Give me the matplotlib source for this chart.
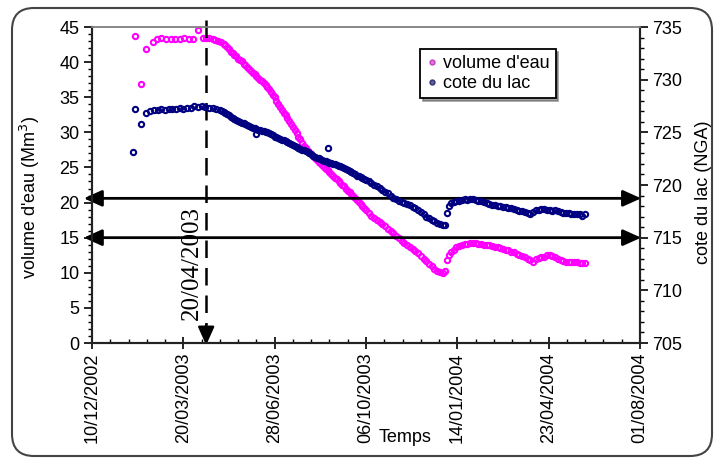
import numpy as np
import pandas as pd
import matplotlib
matplotlib.use("Agg")
import matplotlib.pyplot as plt
import matplotlib.dates as mdates
from matplotlib.lines import Line2D
from matplotlib.patches import FancyBboxPatch
from matplotlib.transforms import IdentityTransform

plt.rcParams['font.family'] = ['Liberation Sans', 'DejaVu Sans']

# ---------------- data ----------------
origin = "2002-12-10"
tick_labels = ["10/12/2002", "20/03/2003", "28/06/2003", "06/10/2003",
               "14/01/2004", "23/04/2004", "01/08/2004"]

# volume d'eau (Mm3): day offsets from origin, values
vol_days = [47, 54, 59, 67, 71, 76, 81, 86, 91, 96, 101, 106, 111, 116, 121, 125, 128, 132, 135, 138, 141,
            144, 146, 148, 150, 152, 154, 156, 158, 160, 162, 164, 166, 168, 170, 172, 174, 176, 178, 180,
            182, 184, 186, 188, 190, 192, 194, 196, 198, 200, 202, 204, 206, 208, 210, 212, 214, 216, 218,
            220, 222, 224, 226, 228, 230, 232, 234, 236, 238, 240, 242, 244, 246, 248, 250, 252, 254, 256,
            258, 260, 262, 264, 266, 268, 270, 272, 274, 276, 278, 280, 282, 284, 286, 288, 290, 292, 294,
            296, 298, 300, 303, 306, 309, 312, 315, 318, 321, 324, 327, 330, 333, 336, 339, 342, 345, 348,
            351, 354, 357, 360, 363, 366, 369, 372, 375, 378, 381, 384, 387,
            389, 391, 393, 396, 399, 402, 405, 408, 411, 414, 417, 420, 423, 426, 429, 432, 435, 438, 441,
            444, 447, 450, 453, 456, 459, 462, 465, 468, 471, 474, 477, 480, 483, 486, 489, 492, 495, 498,
            501, 504, 507, 510, 513, 516, 519, 522, 525, 528, 531, 534, 537, 540]
vol = [43.7, 36.9, 41.9, 42.9, 43.3, 43.4, 43.3, 43.3, 43.3, 43.3, 43.4, 43.3, 43.3, 44.6, 43.5, 43.4, 43.5,
       43.3, 43.2, 43.0, 42.8,
       42.6, 42.4, 42.1, 41.8, 41.5, 41.3, 41.0, 40.8, 40.5, 40.3, 40.1, 39.8, 39.6, 39.3, 39.0, 38.8, 38.5,
       38.3, 38.0, 37.8, 37.5, 37.3, 37.0, 36.8, 36.5, 36.1, 35.7, 35.3, 35.0, 34.5, 34.1, 33.6, 33.2, 32.8,
       32.4, 32.0, 31.6, 31.2, 30.8, 30.4, 29.9, 29.4, 29.0, 28.5, 28.1, 27.7, 27.4, 27.2, 26.9, 26.6, 26.3,
       26.1, 25.8, 25.6, 25.3, 25.1, 24.8, 24.6, 24.3, 24.1, 23.8, 23.5, 23.3, 23.0, 22.8, 22.5, 22.3, 22.0,
       21.7, 21.5, 21.2, 20.9, 20.7, 20.4, 20.1, 19.8, 19.5, 19.2, 18.9, 18.5, 18.1, 17.8, 17.5, 17.2, 16.9,
       16.6, 16.2, 15.9, 15.6, 15.2, 14.9, 14.5, 14.2, 13.9, 13.6, 13.4, 13.1, 12.8, 12.4, 12.0, 11.7, 11.3,
       11.0, 10.6, 10.3, 10.1, 10.0, 10.2,
       11.8, 12.6, 13.0, 13.3, 13.6, 13.8, 14.0, 14.1, 14.1, 14.2, 14.2, 14.2, 14.1, 14.1, 14.0, 14.0, 13.9,
       13.8, 13.7, 13.6, 13.5, 13.4, 13.3, 13.2, 13.0, 12.9, 12.7, 12.6, 12.4, 12.2, 12.0, 11.8, 11.5, 11.9,
       12.1, 12.2, 12.3, 12.5, 12.5, 12.4, 12.2, 12.0, 11.8, 11.7, 11.6, 11.5, 11.6, 11.5, 11.5, 11.4, 11.4,
       11.4]

# cote du lac (NGA)
lac_days = [45, 47, 54, 59, 64, 68, 72, 76, 80, 84, 88, 92, 96, 100, 104, 108, 112, 116, 120, 124, 128, 132,
            136, 140,
            142, 144, 146, 148, 150, 152, 154, 156, 158, 160, 162, 164, 166, 168, 170, 172, 174, 176, 178, 180,
            180, 182, 184, 186, 188, 190, 192, 194, 196, 198, 200, 202, 204, 206, 208, 210, 212, 214, 216, 218,
            220, 222, 224, 226, 228, 230, 232, 234, 236, 238, 240, 242, 244, 246, 248, 250, 252, 254, 256, 258,
            258, 260, 262, 264, 266, 268, 270, 272, 274, 276, 278, 280, 282, 284, 286, 288, 290, 292, 294, 296,
            298, 300, 303, 306, 309, 312, 315, 318, 321, 324, 327, 330, 333, 336, 339, 342, 345, 348, 351, 354,
            357, 360, 363, 366, 369, 372, 375, 378, 381, 384, 387,
            389, 391, 393, 396, 399, 402, 405, 408, 411, 414, 417, 420, 423, 426, 429, 432, 435, 438, 441, 444,
            447, 450, 453, 456, 459, 462, 465, 468, 471, 474, 477, 480, 483, 486, 489, 492, 495, 498, 501, 504,
            507, 510, 513, 516, 519, 522, 525, 528, 531, 534, 537, 540]
lac = [723.1, 727.2, 725.8, 726.8, 727.0, 727.1, 727.1, 727.2, 727.1, 727.2, 727.2, 727.2, 727.3, 727.2, 727.3,
       727.3, 727.5, 727.4, 727.5, 727.4, 727.3, 727.3, 727.2, 727.1,
       727.0, 726.9, 726.8, 726.7, 726.6, 726.5, 726.4, 726.3, 726.2, 726.1, 726.0, 725.9, 725.9, 725.8, 725.7,
       725.6, 725.5, 725.4, 725.4, 725.3, 724.8, 725.2, 725.2, 725.1, 725.1, 725.0, 725.0, 724.9, 724.8, 724.7,
       724.6, 724.6, 724.5, 724.4, 724.3, 724.3, 724.2, 724.1, 724.0, 723.9, 723.8, 723.7, 723.6, 723.5, 723.4,
       723.3, 723.3, 723.2, 723.1, 723.0, 722.9, 722.8, 722.7, 722.6, 722.6, 722.5, 722.4, 722.3, 722.3, 722.2,
       723.5, 722.1, 722.1, 722.0, 722.0, 721.9, 721.8, 721.8, 721.7, 721.6, 721.5, 721.4, 721.3, 721.2, 721.1,
       721.0, 720.9, 720.9, 720.8, 720.7, 720.6, 720.5, 720.4, 720.2, 720.0, 719.9, 719.7, 719.5, 719.3, 719.2,
       719.0, 718.8, 718.7, 718.5, 718.4, 718.3, 718.2, 718.1, 717.9, 717.8, 717.6, 717.4, 717.2, 717.0, 716.9,
       716.7, 716.6, 716.4, 716.3, 716.2, 716.2,
       717.3, 718.0, 718.3, 718.4, 718.5, 718.5, 718.6, 718.7, 718.6, 718.7, 718.7, 718.6, 718.5, 718.5, 718.4,
       718.3, 718.2, 718.1, 718.1, 718.0, 718.0, 717.9, 717.9, 717.8, 717.8, 717.7, 717.6, 717.5, 717.5, 717.4,
       717.3, 717.2, 717.4, 717.6, 717.6, 717.7, 717.7, 717.6, 717.6, 717.5, 717.6, 717.5, 717.4, 717.3, 717.3,
       717.3, 717.2, 717.2, 717.2, 717.2, 717.1, 717.2]

event_day = 125            # dashed marker position
event_label = "20/04/2003"
levels = [20.6, 15.0]      # horizontal double arrows (volume axis)

# ---------------- figure ----------------
W, H = 718, 462
fig = plt.figure(figsize=(W / 100, H / 100), dpi=100)
ax = fig.add_axes([92 / W, 1 - 343 / H, 548 / W, 316 / H])
ax2 = ax.twinx()

t0 = pd.Timestamp(origin)
vx = t0 + pd.to_timedelta(vol_days, unit="D")
lx = t0 + pd.to_timedelta(lac_days, unit="D")
ticks = pd.to_datetime(tick_labels, dayfirst=True)

MAG = "#ff00ff"
NAVY = "#000080"
ax.plot(vx, vol, linestyle="none", marker="o", ms=3.8, mfc="none", mec=MAG, mew=1.5, zorder=3)
ax2.plot(lx, lac, linestyle="none", marker="o", ms=3.8, mfc="none", mec=NAVY, mew=1.5, zorder=3)

ax.set_xlim(ticks[0], ticks[-1])
ax.set_ylim(0, 45)
ax2.set_ylim(705, 735)
ax.set_xticks(ticks)
ax.set_xticklabels(tick_labels, rotation=90, fontsize=13)
minor = pd.date_range(ticks[0], ticks[-1], freq="20D")
ax.xaxis.set_minor_locator(matplotlib.ticker.FixedLocator(mdates.date2num(minor)))
ax.set_yticks(np.arange(0, 46, 5))
ax.set_yticks(np.arange(0, 46, 1), minor=True)
ax2.set_yticks(np.arange(705, 736, 5))
ax2.set_yticks(np.arange(705, 736, 1), minor=True)
ax.tick_params(axis="y", which="major", direction="out", length=6, width=1.2, labelsize=13, pad=3)
ax.tick_params(axis="y", which="minor", direction="out", length=3, width=1)
ax.tick_params(axis="x", which="major", direction="inout", length=8, width=1.2, pad=3)
ax.tick_params(axis="x", which="minor", direction="in", length=3, width=1)
ax2.tick_params(axis="y", which="major", direction="out", length=6, width=1.2, labelsize=13, pad=3)
ax2.tick_params(axis="y", which="minor", direction="out", length=3, width=1)

for a in (ax, ax2):
    for s in a.spines.values():
        s.set_color("#222222")
        s.set_linewidth(1.5)
ax.spines["top"].set_color("#888888")
ax.spines["top"].set_linewidth(1.2)
ax2.spines["top"].set_color("#888888")
ax2.spines["top"].set_linewidth(1.2)

# axis labels
fig.text(30 / W, 1 - 197 / H, "volume d'eau (Mm$^3$)", rotation=90, ha="center", va="center", fontsize=13)
fig.text(703 / W, 1 - 192 / H, "cote du lac (NGA)", rotation=90, ha="center", va="center", fontsize=13)
fig.text(405 / W, 1 - 437 / H, "Temps", ha="center", va="center", fontsize=13)

# legend
handles = [Line2D([], [], linestyle="none", marker="o", ms=3.5, mfc="#e070e0", mec="#c040c0"),
           Line2D([], [], linestyle="none", marker="o", ms=3.5, mfc="#6060a0", mec="#303070")]
leg = fig.legend(handles, ["volume d'eau", "cote du lac"], loc="upper left",
                 bbox_to_anchor=(420 / W, 1 - 49 / H), bbox_transform=fig.transFigure,
                 fontsize=13, frameon=True, fancybox=False, shadow=True, handlelength=0.6,
                 handletextpad=0.3, borderpad=0.35, labelspacing=0.15, borderaxespad=0)
leg.get_frame().set_edgecolor("black")
leg.get_frame().set_linewidth(1.3)

# horizontal double arrows
for lv in levels:
    ax.annotate("", xy=(-0.015, lv), xytext=(1.002, lv),
                xycoords=("axes fraction", "data"), textcoords=("axes fraction", "data"),
                arrowprops=dict(arrowstyle="<|-|>,head_length=1.0,head_width=0.45", color="black",
                                lw=2, shrinkA=0, shrinkB=0, mutation_scale=11),
                annotation_clip=False, zorder=5)

# vertical dashed marker with arrow
ev = t0 + pd.Timedelta(days=event_day)
ax.plot([ev, ev], [46.0, 2.5], color="black", lw=1.8, dashes=(7, 4), clip_on=False, zorder=5)
ax.annotate("", xy=(ev, -0.3), xytext=(ev, 2.6),
            arrowprops=dict(arrowstyle="-|>,head_length=1.0,head_width=0.45", color="black",
                            lw=1.8, shrinkA=0, shrinkB=0, mutation_scale=11),
            annotation_clip=False, zorder=5)
fig.text(192 / W, 1 - 263 / H, event_label, rotation=90, ha="center", va="center",
         fontsize=18, family=["Liberation Serif", "DejaVu Serif"])

# rounded frame around the chart
frame = FancyBboxPatch((12, H - 456), 700, 448, boxstyle="round,pad=0,rounding_size=22",
                       transform=IdentityTransform(), facecolor="none", edgecolor="#444444",
                       linewidth=1.5, zorder=-1)
fig.patches.append(frame)

fig.savefig("out.png", dpi=100)
